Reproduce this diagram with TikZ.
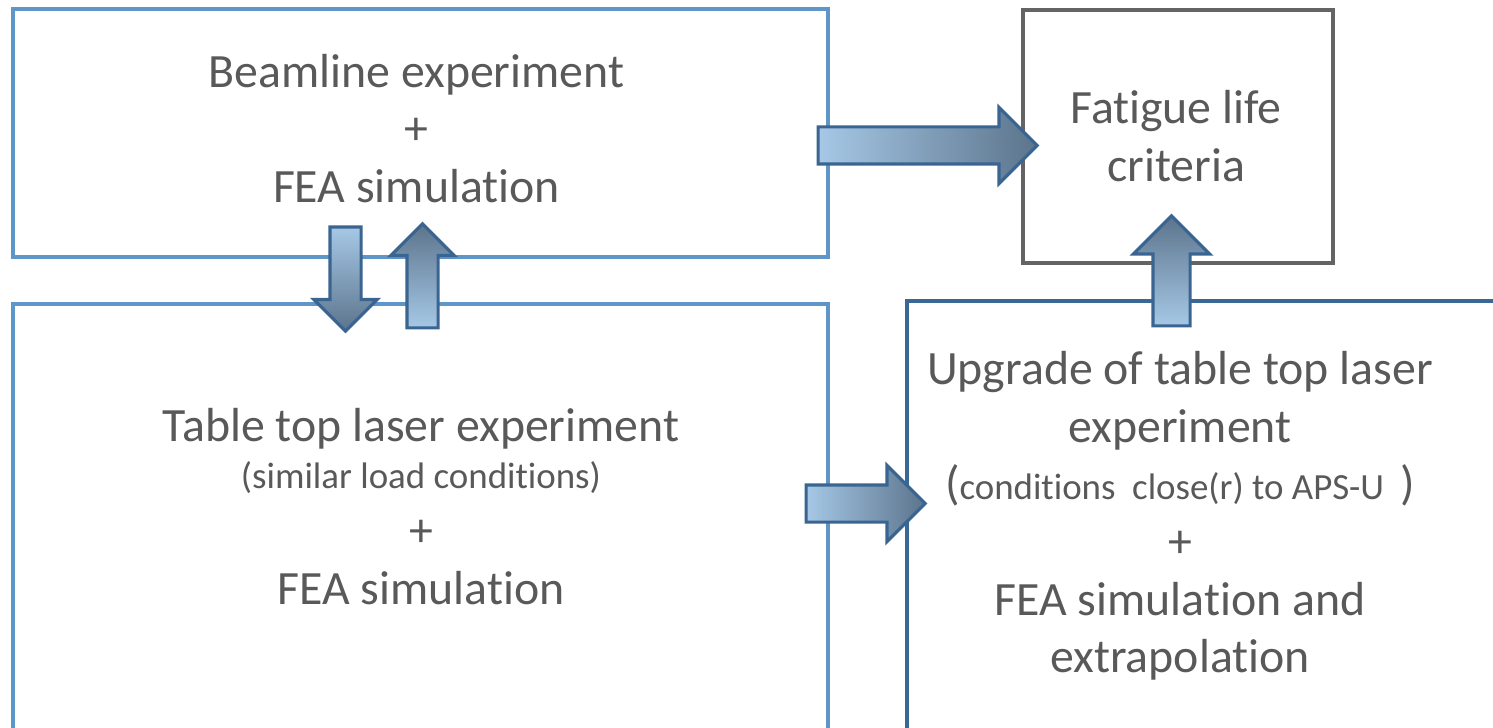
\documentclass[tikz,border=0pt]{standalone}
\usepackage{fontspec}
\setmainfont[Ligatures=NoCommon]{Carlito}
\usetikzlibrary{shapes.arrows}
\definecolor{boxblue}{RGB}{95,150,200}
\definecolor{boxnavy}{RGB}{58,104,150}
\definecolor{boxgrey}{RGB}{100,100,100}
\definecolor{txtgrey}{RGB}{89,89,89}
\definecolor{arrlight}{RGB}{166,200,230}
\definecolor{arrdark}{RGB}{92,116,140}
\definecolor{arredge}{RGB}{58,101,145}
\newcommand{\smalltxt}{\fontsize{10.5pt}{12pt}\selectfont}

\begin{document}
\begin{tikzpicture}[x=1cm, y=-1cm,
  box/.style={draw=#1, line width=1.1pt, inner sep=0pt},
  txt/.style={text=txtgrey, align=center, font=\fontsize{13.6pt}{16.4pt}\selectfont},
  blockarrow/.style={single arrow, draw=arredge, line width=0.9pt, single arrow tip angle=90, anchor=tail},
  widearrow/.style={blockarrow, inner sep=0.17cm, single arrow head extend=0.195cm},
  thinarrow/.style={blockarrow, inner sep=0.14cm, single arrow head extend=0.16cm},
  rightarr/.style={left color=arrlight, right color=arrdark},
  uparr/.style={shape border rotate=90, bottom color=arrlight, top color=arrdark},
  downarr/.style={shape border rotate=270, top color=arrlight, bottom color=arrdark}
]
  \clip (0,0) rectangle (14.93,7.28);

  % Boxes
  \node[box=boxblue, minimum width=8.15cm, minimum height=2.48cm] (beamline) at (4.205,1.33) {};
  \node[box=boxgrey, minimum width=3.10cm, minimum height=2.53cm] (fatigue) at (11.78,1.365) {};
  \node[box=boxblue, minimum width=8.15cm, minimum height=4.66cm] (tabletop) at (4.205,5.37) {};
  \node[box=boxnavy, minimum width=6.23cm, minimum height=4.69cm] (upgrade) at (12.185,5.355) {};

  % Texts
  \node[txt] (beamtxt) at (4.165,1.285) {Beamline experiment\\+\\FEA simulation};
  \node[txt] (fatiguetxt) at (11.76,1.36) {Fatigue life\\criteria};
  \node[txt] (tabletxt) at (4.21,5.065) {Table top laser experiment\\[-3pt]{\smalltxt (similar load conditions)}\\+\\FEA simulation};
  \node[txt] (upgradetxt) at (11.80,5.16) {Upgrade of table top laser\\experiment\\({\smalltxt conditions\ \ close(r) to APS-U }\,)\\+\\FEA simulation and\\extrapolation};

  % Block arrows
  \node[widearrow, rightarr, minimum height=2.19cm] (tofatigue) at (8.165,1.455) {};
  \node[thinarrow, downarr, minimum height=1.04cm] (totable) at (3.455,2.255) {};
  \node[thinarrow, uparr, minimum height=1.04cm] (tobeam) at (4.225,3.295) {};
  \node[widearrow, rightarr, minimum height=1.19cm] (toupgrade) at (8.045,5.035) {};
  \node[widearrow, uparr, minimum height=1.10cm] (tocriteria) at (11.715,3.275) {};
\end{tikzpicture}
\end{document}
